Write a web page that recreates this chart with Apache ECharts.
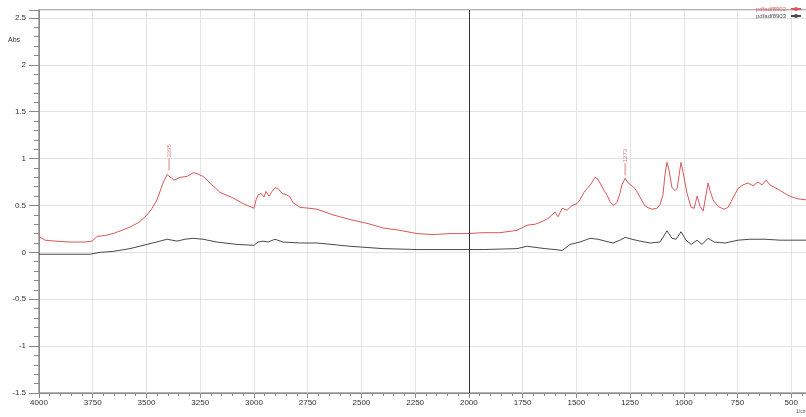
<!DOCTYPE html>
<html>
<head>
<meta charset="utf-8">
<script src="https://cdn.jsdelivr.net/npm/echarts@6/dist/echarts.min.js"></script>
<style>
  html, body { margin: 0; padding: 0; background: #fff; overflow: hidden; }
  /* The plot runs past the right edge of the window, down to 250 1/cm */
  #chart { width: 845px; height: 417px; }
</style>
</head>
<body>
<div id="chart"></div>
<script>
// Spectrum pdfadf8902 (upper trace)
const redWavenumbers = [4000, 3972, 3926, 3856, 3786, 3753, 3730, 3693, 3656, 3614, 3577, 3535, 3497, 3474, 3451, 3423, 3404, 3395, 3372, 3344, 3311, 3283, 3265, 3237, 3204, 3158, 3097, 3051, 3000, 2990, 2981, 2967, 2953, 2944, 2930, 2916, 2902, 2888, 2869, 2846, 2832, 2818, 2786, 2739, 2706, 2632, 2553, 2474, 2399, 2320, 2241, 2167, 2088, 2009, 1934, 1855, 1776, 1729, 1692, 1669, 1632, 1599, 1585, 1566, 1543, 1520, 1497, 1483, 1464, 1450, 1432, 1413, 1399, 1390, 1371, 1357, 1343, 1329, 1311, 1297, 1288, 1273, 1259, 1241, 1227, 1204, 1185, 1171, 1148, 1125, 1111, 1097, 1088, 1078, 1069, 1055, 1041, 1031, 1022, 1013, 1003, 985, 966, 952, 938, 924, 910, 897, 887, 878, 864, 841, 813, 794, 771, 748, 724, 701, 678, 655, 636, 617, 599, 576, 552, 524, 496, 468, 431];
const redAbs = [0.17, 0.13, 0.12, 0.11, 0.11, 0.12, 0.17, 0.18, 0.20, 0.235, 0.27, 0.32, 0.40, 0.47, 0.56, 0.74, 0.83, 0.84, 0.77, 0.80, 0.81, 0.85, 0.84, 0.81, 0.74, 0.64, 0.58, 0.52, 0.47, 0.56, 0.61, 0.63, 0.59, 0.65, 0.60, 0.65, 0.69, 0.68, 0.63, 0.61, 0.59, 0.53, 0.48, 0.47, 0.46, 0.40, 0.35, 0.31, 0.26, 0.235, 0.20, 0.19, 0.20, 0.20, 0.21, 0.21, 0.235, 0.29, 0.30, 0.32, 0.36, 0.43, 0.38, 0.47, 0.45, 0.50, 0.52, 0.56, 0.64, 0.68, 0.73, 0.80, 0.78, 0.74, 0.66, 0.61, 0.54, 0.50, 0.53, 0.63, 0.72, 0.79, 0.74, 0.71, 0.68, 0.59, 0.51, 0.48, 0.46, 0.47, 0.51, 0.61, 0.82, 0.96, 0.88, 0.69, 0.66, 0.68, 0.82, 0.96, 0.85, 0.63, 0.48, 0.47, 0.60, 0.49, 0.44, 0.61, 0.74, 0.66, 0.56, 0.49, 0.46, 0.48, 0.58, 0.68, 0.72, 0.74, 0.71, 0.75, 0.72, 0.77, 0.72, 0.69, 0.66, 0.62, 0.59, 0.57, 0.56];

// Spectrum pdfadf8903 (lower trace)
const blackWavenumbers = [4000, 3763, 3716, 3656, 3577, 3497, 3437, 3404, 3381, 3358, 3321, 3283, 3237, 3172, 3079, 3000, 2981, 2958, 2934, 2902, 2865, 2786, 2706, 2553, 2399, 2241, 2088, 1934, 1776, 1729, 1646, 1599, 1566, 1529, 1483, 1436, 1399, 1366, 1329, 1297, 1273, 1241, 1204, 1157, 1111, 1078, 1055, 1036, 1013, 990, 966, 938, 915, 887, 859, 808, 748, 692, 622, 552, 483, 431];
const blackAbs = [-0.02, -0.02, 0.0, 0.01, 0.04, 0.085, 0.12, 0.14, 0.13, 0.12, 0.14, 0.15, 0.14, 0.11, 0.085, 0.075, 0.11, 0.12, 0.11, 0.14, 0.11, 0.10, 0.10, 0.065, 0.04, 0.03, 0.03, 0.03, 0.04, 0.065, 0.04, 0.03, 0.02, 0.085, 0.11, 0.15, 0.14, 0.12, 0.10, 0.13, 0.16, 0.14, 0.12, 0.10, 0.11, 0.23, 0.15, 0.14, 0.22, 0.13, 0.085, 0.13, 0.085, 0.15, 0.11, 0.10, 0.13, 0.14, 0.14, 0.13, 0.13, 0.13];

// Picked peaks on the upper trace
const peakWavenumbers = [3395, 1273];
const peakAbs = [0.84, 0.79];

const seriesNames = ['pdfadf8902', 'pdfadf8903'];
const xTicks = { min: 250, max: 4000, step: 250 };
const yTicks = { min: -1.5, max: 2.585, step: 0.5 };

const RED = '#d9575a';
const DARK = '#4a4a4a';

const zip = (xs, ys) => xs.map((x, i) => [x, ys[i]]);

const chart = echarts.init(document.getElementById('chart'), null, { renderer: 'canvas' });

chart.setOption({
  animation: false,
  backgroundColor: '#fff',
  textStyle: { fontFamily: 'Liberation Sans, Arial, sans-serif' },
  grid: {
    left: 39, top: 10, right: 0, bottom: 24,
    containLabel: false,
    outerBoundsMode: 'none',
    show: true, borderColor: '#9a9a9a', borderWidth: 1.5
  },
  legend: {
    data: [
      { name: seriesNames[0], textStyle: { color: RED } },
      { name: seriesNames[1], textStyle: { color: '#555' } }
    ],
    orient: 'vertical',
    left: 756, top: 6,
    align: 'right',
    itemGap: 1,
    itemWidth: 10, itemHeight: 5,
    textStyle: { fontSize: 6, padding: [0, 0, 0, 0] },
    padding: 0
  },
  xAxis: {
    type: 'value',
    inverse: true,
    min: xTicks.min, max: xTicks.max, interval: xTicks.step,
    axisLine: { show: true, onZero: false, lineStyle: { color: '#8a8a8a', width: 1 } },
    axisTick: { show: true, length: 5, lineStyle: { color: '#8a8a8a' } },
    minorTick: { show: true, splitNumber: 5, length: 3, lineStyle: { color: '#8a8a8a' } },
    axisLabel: { fontSize: 8, color: '#333', margin: 6, formatter: v => String(v) },
    splitLine: { show: true, lineStyle: { color: '#e3e3e3', width: 1 } }
  },
  yAxis: {
    type: 'value',
    min: yTicks.min, max: yTicks.max, interval: yTicks.step,
    axisLine: { show: true, onZero: false, lineStyle: { color: '#8a8a8a', width: 1 } },
    axisTick: { show: true, length: 10, lineStyle: { color: '#8a8a8a' } },
    minorTick: { show: true, splitNumber: 5, length: 5, lineStyle: { color: '#8a8a8a' } },
    axisLabel: {
      fontSize: 8, color: '#333', margin: 13,
      formatter: v => (Math.abs(v / yTicks.step - Math.round(v / yTicks.step)) < 1e-6 ? String(v) : '')
    },
    splitLine: { show: true, lineStyle: { color: '#e3e3e3', width: 1 } }
  },
  graphic: [
    { type: 'text', left: 8, top: 37, style: { text: 'Abs', fontSize: 7, fill: '#333' } },
    { type: 'text', left: 796, top: 409, style: { text: '1/cm', fontSize: 5, fill: '#555' } }
  ],
  series: [
    {
      name: seriesNames[0],
      type: 'line',
      data: zip(redWavenumbers, redAbs),
      symbol: 'none',
      lineStyle: { color: RED, width: 1 },
      itemStyle: { color: RED },
      z: 3,
      markLine: {
        silent: true,
        symbol: 'none',
        label: { show: false },
        lineStyle: { color: '#333', width: 1, type: 'solid' },
        data: [{ xAxis: 2000 }]
      }
    },
    {
      name: seriesNames[1],
      type: 'line',
      data: zip(blackWavenumbers, blackAbs),
      symbol: 'none',
      lineStyle: { color: DARK, width: 1 },
      itemStyle: { color: DARK },
      z: 2
    },
    {
      name: 'peaks',
      type: 'scatter',
      data: zip(peakWavenumbers, peakAbs),
      symbol: 'rect',
      symbolSize: [1, 12],
      symbolOffset: [0, -9],
      itemStyle: { color: RED },
      label: {
        show: true,
        position: 'top',
        distance: 1,
        rotate: 90,
        align: 'left',
        verticalAlign: 'middle',
        fontSize: 6,
        color: RED,
        formatter: p => String(p.value[0])
      },
      z: 4
    }
  ]
});
</script>
</body>
</html>
